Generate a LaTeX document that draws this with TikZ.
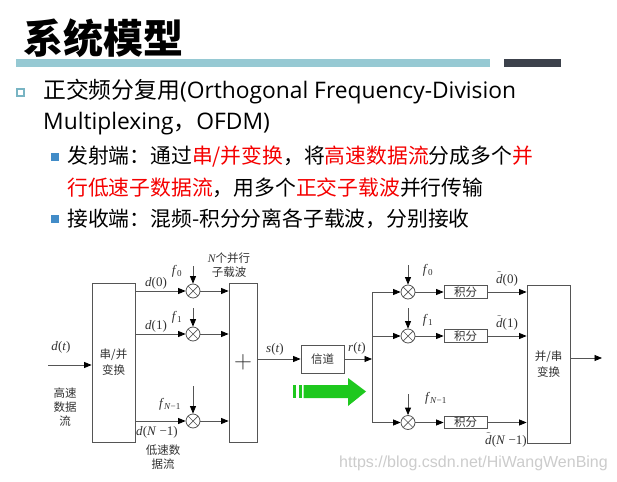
\documentclass[tikz,border=0pt]{standalone}
\usepackage{fontspec}
\setmainfont{Open Sans}
\newfontfamily\cjk{Noto Sans CJK SC}
\newfontfamily\tms{Liberation Serif}
\newfontfamily\wmfont{Liberation Sans}
\usetikzlibrary{arrows.meta}
\newcommand\iv[1]{\textit{#1}}
\newcommand\dtil{$\tilde{\hbox{\iv{d}}}$}
\definecolor{tealbar}{RGB}{150,201,211}
\definecolor{darkbar}{RGB}{60,65,75}
\definecolor{subbul}{RGB}{66,140,200}
\definecolor{holbul}{RGB}{120,180,195}
\definecolor{redtxt}{RGB}{245,0,0}
\definecolor{grnarrow}{RGB}{30,200,30}
\definecolor{lncol}{RGB}{85,85,85}
\definecolor{lblcol}{RGB}{50,50,50}
\begin{document}
\begin{tikzpicture}[x=1pt,y=-1pt,
  txt/.style={anchor=west,inner sep=0pt},
  blk/.style={draw=lncol,line width=0.8pt,inner sep=0pt,align=center,
    font=\cjk\fontsize{11.5}{16}\selectfont,text=lblcol},
  mult/.style={draw=lncol,line width=0.8pt,circle,minimum size=14pt,inner sep=0pt,
    path picture={\draw[lncol,line width=0.7pt]
      (path picture bounding box.north west) -- (path picture bounding box.south east)
      (path picture bounding box.north east) -- (path picture bounding box.south west);}},
  arr/.style={draw=lncol,line width=0.8pt,-{Triangle[length=7.5pt,width=6pt,color=black]}},
  ln/.style={draw=lncol,line width=0.8pt},
  mlbl/.style={inner sep=0pt,font=\tms\fontsize{13}{15}\selectfont,text=lblcol},
  clbl/.style={inner sep=0pt,align=center,font=\cjk\fontsize{11.5}{14}\selectfont,text=lblcol}]
\useasboundingbox (0,0) rectangle (617,481);
\fill[white] (0,0) rectangle (617,481);

% title and bars
\node[txt,font=\cjk\bfseries\fontsize{40}{44}\selectfont] (title) at (23,38) {系统模型};
\fill[tealbar] (16,59) rectangle (490,67);
\fill[darkbar] (504,59) rectangle (561,67);

% bullets
\draw[holbul,line width=1.3pt] (17,89) rectangle (24,96);
\node[txt,font=\fontsize{22.8}{27}\selectfont] (l1) at (43,92) {{\cjk 正交频分复用}(Orthogonal Frequency-Division};
\node[txt,font=\fontsize{22.8}{27}\selectfont] (l2) at (43,124) {Multiplexing{\cjk ，}OFDM)};
\fill[subbul] (51,153) rectangle (59,161);
\node[txt,font=\cjk\fontsize{20.8}{25}\selectfont] (s1) at (67,157) {发射端：通过\textcolor{redtxt}{串/并变换}，将\textcolor{redtxt}{高速数据流}分成多个\textcolor{redtxt}{并}};
\node[txt,font=\cjk\fontsize{20.8}{25}\selectfont] (s2) at (67,188) {\textcolor{redtxt}{行低速子数据流}，用多个\textcolor{redtxt}{正交子载波}并行传输};
\fill[subbul] (51,215) rectangle (59,223);
\node[txt,font=\cjk\fontsize{20.8}{25}\selectfont] (s3) at (67,219) {接收端：混频-积分分离各子载波，分别接收};

% ---------- transmitter ----------
\node[blk,minimum width=43pt,minimum height=159pt] (sp) at (113.5,362.5) {串/并\\变换};
\node[blk,minimum width=28pt,minimum height=159pt,font=\fontsize{24}{24}\selectfont] (sum) at (243,362.5) {$+$};
\node[mult] (m0) at (193,291) {};
\node[mult] (m1) at (193,334) {};
\node[mult] (m2) at (193,421) {};
\coordinate (in) at (48,365);
\coordinate (f0t) at (193,266);
\coordinate (f1t) at (193,308);
\coordinate (f2t) at (193,386);
\draw[arr] (in) -- (in -| sp.west);
\foreach \m in {m0,m1,m2}{
  \draw[arr] (sp.east |- \m) -- (\m);
  \draw[arr] (\m) -- (\m -| sum.west);
}
\draw[arr] (f0t) -- (m0);
\draw[arr] (f1t) -- (m1);
\draw[arr] (f2t) -- (m2);

\node[mlbl] (ldt) at (61,347) {\iv{d}(\iv{t})};
\node[clbl] (lhs) at (65,407) {高速\\数据\\流};
\node[mlbl] (ld0) at (156,283) {\iv{d}(0)};
\node[mlbl] (ld1) at (156,326) {\iv{d}(1)};
\node[mlbl] (ldn) at (157,432) {\iv{d}(\iv{N} −1)};
\node[mlbl] (lf0) at (177,271) {\iv{f}\textsubscript{0}};
\node[mlbl] (lf1) at (177,317) {\iv{f}\textsubscript{1}};
\node[mlbl] (lfn) at (170,404) {\iv{f}\textsubscript{\iv{N}−1}};
\node[clbl,align=center] (lnp) at (229,265) {{\tms\itshape N}个并行\\子载波};
\node[clbl] (lls) at (163,457) {低速数\\据流};

% ---------- channel ----------
\node[blk,minimum width=43pt,minimum height=28pt] (ch) at (322.5,359) {信道};
\draw[arr] (ch.west -| sum.east) -- (ch.west);
\node[mlbl] (lst) at (275,349) {\iv{s}(\iv{t})};
\coordinate (bust) at (372,292);
\coordinate (busb) at (372,422.5);
\draw[arr] (ch.east) -- (ch.east -| bust);
\draw[ln] (bust) -- (busb);
\node[mlbl] (lrt) at (357,348) {\iv{r}(\iv{t})};

% green arrow
\fill[grnarrow] (293,385) rectangle (296,398);
\fill[grnarrow] (298.5,385) rectangle (301.5,398);
\fill[grnarrow] (303.5,385) -- (348,385) -- (348,378) -- (366,391.5) -- (348,406) -- (348,398) -- (303.5,398) -- cycle;

% ---------- receiver ----------
\node[mult] (r0) at (408,292) {};
\node[mult] (r1) at (408,336) {};
\node[mult] (r2) at (408,422.5) {};
\node[blk,minimum width=43pt,minimum height=12.5pt] (i0) at (465.5,292) {积分};
\node[blk,minimum width=43pt,minimum height=12.5pt] (i1) at (465.5,336) {积分};
\node[blk,minimum width=43pt,minimum height=12.5pt] (i2) at (465.5,422.5) {积分};
\node[blk,minimum width=43pt,minimum height=158pt] (ps) at (548.5,364) {并/串\\变换};
\coordinate (g0t) at (408,265);
\coordinate (g1t) at (408,308);
\coordinate (g2t) at (408,394);
\coordinate (out) at (602,358);
\draw[arr] (r0 -| bust) -- (r0);
\draw[arr] (r1 -| bust) -- (r1);
\draw[arr] (r2 -| bust) -- (r2);
\draw[arr] (g0t) -- (r0);
\draw[arr] (g1t) -- (r1);
\draw[arr] (g2t) -- (r2);
\draw[arr] (r0) -- (i0);
\draw[arr] (r1) -- (i1);
\draw[arr] (r2) -- (i2);
\draw[arr] (i0) -- (i0 -| ps.west);
\draw[arr] (i1) -- (i1 -| ps.west);
\draw[arr] (i2) -- (i2 -| ps.west);
\draw[arr] (ps.east |- out) -- (out);

\node[mlbl] (lg0) at (428,270) {\iv{f}\textsubscript{0}};
\node[mlbl] (lg1) at (428,320) {\iv{f}\textsubscript{1}};
\node[mlbl] (lgn) at (436,398) {\iv{f}\textsubscript{\iv{N}−1}};
\node[mlbl] (le0) at (507,279) {\dtil(0)};
\node[mlbl] (le1) at (507,323) {\dtil(1)};
\node[mlbl] (len) at (506,440) {\dtil(\iv{N} −1)};

% watermark
\node[anchor=east,inner sep=0pt,font=\wmfont\fontsize{16}{18}\selectfont,text=black!20] (wm) at (608,463) {https://blog.csdn.net/HiWangWenBing};
\end{tikzpicture}
\end{document}
